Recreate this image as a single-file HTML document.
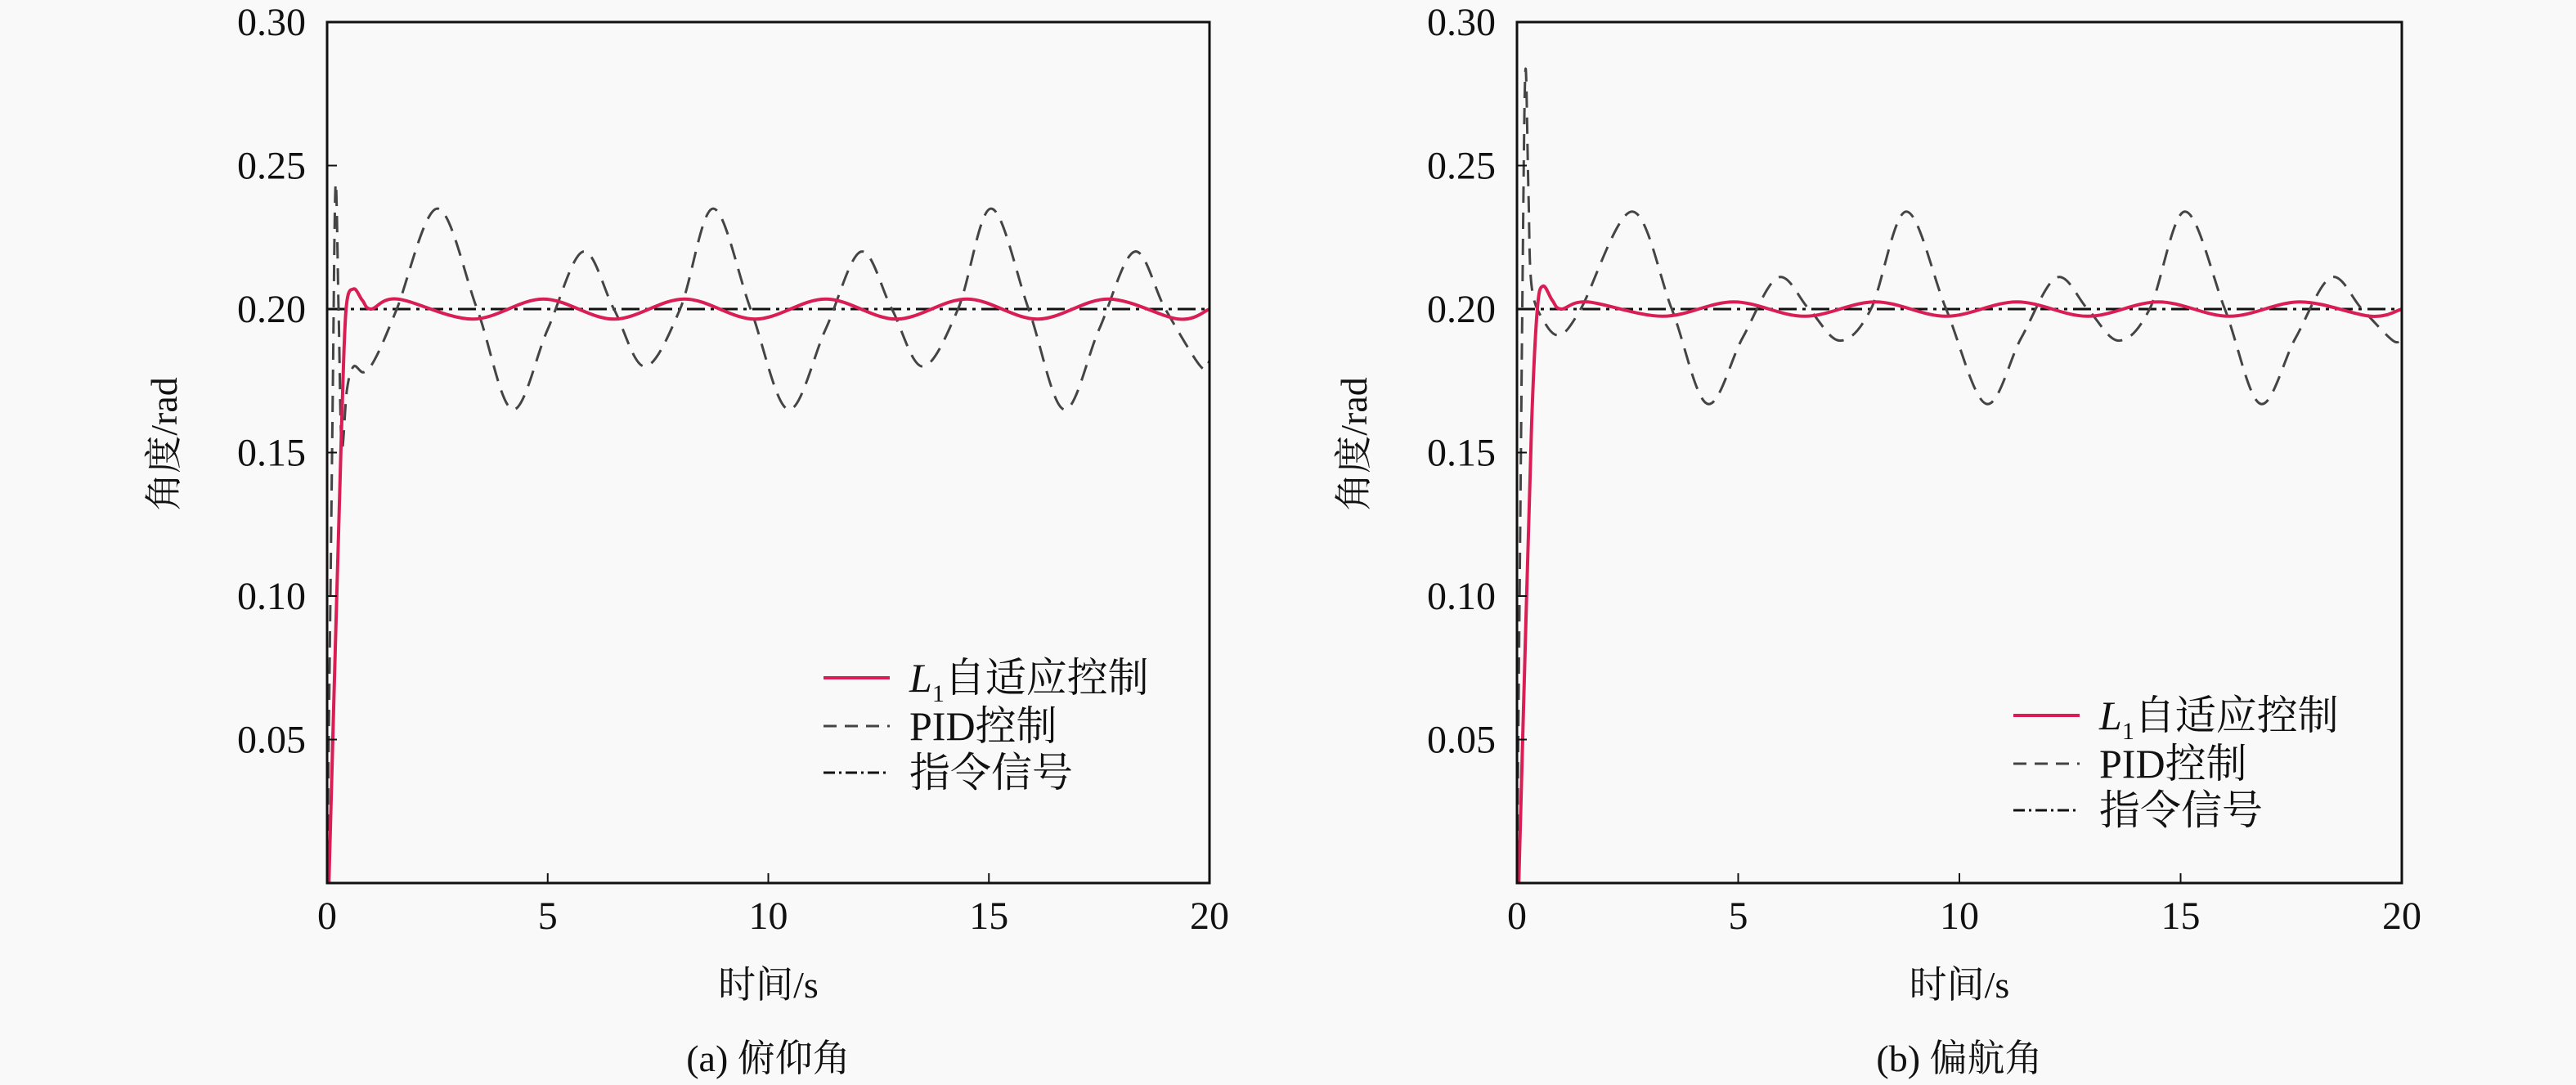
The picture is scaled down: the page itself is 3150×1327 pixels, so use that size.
<!DOCTYPE html>
<html><head><meta charset="utf-8"><style>
html,body{margin:0;padding:0;background:#f9f9f9;}
svg{display:block;font-family:"Liberation Serif","Noto Serif CJK SC",serif;}
</style></head><body>
<svg id="fig" width="3150" height="1327" viewBox="0 0 3150 1327" xmlns="http://www.w3.org/2000/svg">
<rect width="3150" height="1327" fill="#f9f9f9"/>
</svg>
<script>
const xTicks=[0,5,10,15,20];
const yTicks=[0.05,0.10,0.15,0.20,0.25,0.30];
const yTickLabels=["0.05","0.10","0.15","0.20","0.25","0.30"];
const cmdValue=0.2;
// pitch
const pitchPidT=[0,0.12,0.19,0.26,0.33,0.45,0.6,0.83,1.1,1.58,2.5,3.4,4.2,5.0,5.8,6.5,7.2,8.0,8.75,9.6,10.45,11.3,12.1,12.8,13.5,14.3,15.05,15.9,16.7,17.5,18.3,19.0,19.8,20];
const pitchPidV=[0,0.16,0.243,0.2,0.152,0.172,0.180,0.178,0.183,0.2,0.235,0.2,0.165,0.193,0.22,0.2,0.18,0.2,0.235,0.2,0.165,0.193,0.22,0.2,0.18,0.2,0.235,0.2,0.165,0.193,0.22,0.2,0.18,0.182];
const pitchL1T=[0.04,0.2,0.33,0.43,0.6,0.8,1.0,1.6,3.3,4.9,6.5,8.1,9.7,11.3,12.9,14.5,16.1,17.7,19.3,20];
const pitchL1V=[0,0.09,0.16,0.2,0.207,0.203,0.2,0.2035,0.1965,0.2035,0.1965,0.2035,0.1965,0.2035,0.1965,0.2035,0.1965,0.2035,0.1965,0.2];
// yaw
const yawPidT=[0,0.12,0.19,0.26,0.33,0.6,0.96,1.44,2.6,3.5,4.3,5.1,5.9,6.6,7.3,8.0,8.8,9.7,10.6,11.4,12.2,12.9,13.6,14.3,15.1,16.0,16.8,17.6,18.4,19.1,19.8,20];
const yawPidV=[0,0.2,0.283,0.24,0.208,0.196,0.191,0.2,0.234,0.2,0.167,0.19,0.211,0.2,0.189,0.2,0.234,0.2,0.167,0.19,0.211,0.2,0.189,0.2,0.234,0.2,0.167,0.19,0.211,0.2,0.189,0.19];
const yawL1T=[0.04,0.2,0.33,0.46,0.59,0.8,1.0,1.6,3.3,4.9,6.5,8.1,9.7,11.3,12.9,14.5,16.1,17.7,19.3,20];
const yawL1V=[0,0.09,0.16,0.2,0.208,0.203,0.2,0.2025,0.1975,0.2025,0.1975,0.2025,0.1975,0.2025,0.1975,0.2025,0.1975,0.2025,0.1975,0.2];

const NS="http://www.w3.org/2000/svg";
const svg=document.getElementById('fig');
function mk(tag,attrs,parent){const e=document.createElementNS(NS,tag);for(const k in attrs)e.setAttribute(k,attrs[k]);(parent||svg).appendChild(e);return e;}
function smooth(pts){let d='M'+pts[0][0].toFixed(1)+','+pts[0][1].toFixed(1);
 for(let i=0;i<pts.length-1;i++){const p0=pts[i-1]||pts[i],p1=pts[i],p2=pts[i+1],p3=pts[i+2]||p2;
 const c1=[p1[0]+(p2[0]-p0[0])/6,p1[1]+(p2[1]-p0[1])/6],c2=[p2[0]-(p3[0]-p1[0])/6,p2[1]-(p3[1]-p1[1])/6];
 d+='C'+c1[0].toFixed(1)+','+c1[1].toFixed(1)+' '+c2[0].toFixed(1)+','+c2[1].toFixed(1)+' '+p2[0].toFixed(1)+','+p2[1].toFixed(1);}
 return d;}
function panel(cfg){
 const g=mk('g',{});
 
 
 const X=t=>cfg.x0+t/20*(cfg.x1-cfg.x0);
 const Y=v=>cfg.y1-v/0.3*(cfg.y1-cfg.y0);
 const clip=mk('clipPath',{id:cfg.name+'-clip'},g);
 mk('rect',{x:cfg.x0,y:cfg.y0,width:cfg.x1-cfg.x0,height:cfg.y1-cfg.y0},clip);
 const cg=mk('g',{'clip-path':'url(#'+cfg.name+'-clip)'},g);
 const cmd=mk('line',{x1:X(0),x2:X(20),y1:Y(cmdValue),y2:Y(cmdValue),stroke:'#111','stroke-width':3,'stroke-dasharray':'22 7 4 7'},cg);
 
 
 const pid=mk('path',{d:smooth(cfg.pidT.map((t,i)=>[X(t),Y(cfg.pidV[i])])),fill:'none',stroke:'#444','stroke-width':3,'stroke-dasharray':'20 12'},cg);
 
 
 const l1=mk('path',{d:smooth(cfg.l1T.map((t,i)=>[X(t),Y(cfg.l1V[i])])),fill:'none',stroke:'#d81e55','stroke-width':4},cg);
 
 
 const ax=mk('rect',{x:cfg.x0,y:cfg.y0,width:cfg.x1-cfg.x0,height:cfg.y1-cfg.y0,fill:'none',stroke:'#111','stroke-width':3},g);
 
 
 xTicks.forEach(t=>{
  if(t>0&&t<20){const tk=mk('line',{x1:X(t),x2:X(t),y1:cfg.y1,y2:cfg.y1-12,stroke:'#111','stroke-width':2},g);
  
  }
  const tl=mk('text',{x:X(t),y:cfg.y1+56,'font-size':48,'text-anchor':'middle',fill:'#111'},g);tl.textContent=String(t);
  
  
 });
 yTicks.forEach((v,i)=>{
  if(v<0.3){const tk=mk('line',{x1:cfg.x0,x2:cfg.x0+12,y1:Y(v),y2:Y(v),stroke:'#111','stroke-width':2},g);
  
  }
  const tl=mk('text',{x:cfg.x0-26,y:Y(v)+16,'font-size':48,'text-anchor':'end',fill:'#111'},g);tl.textContent=yTickLabels[i];
  
  
 });
 const cx=(cfg.x0+cfg.x1)/2;
 const xt=mk('text',{x:cx,y:1220,'font-size':46,'text-anchor':'middle',fill:'#111'},g);xt.textContent='时间/s';
 
 
 const yt=mk('text',{x:0,y:0,'font-size':46,'text-anchor':'middle',fill:'#111',transform:'translate('+(cfg.x0-184)+',543) rotate(-90)'},g);yt.textContent='角度/rad';
 
 
 const cap=mk('text',{x:cx,y:1310,'font-size':46,'text-anchor':'middle',fill:'#111'},g);cap.textContent=cfg.caption;
 
 
 // legend
 const lg=mk('g',{},g);
 
 
 const lx=cfg.x0+607, ly=cfg.legY;
 const s1=mk('line',{x1:lx,x2:lx+81,y1:ly,y2:ly,stroke:'#d81e55','stroke-width':4},lg);
 
 
 const s2=mk('line',{x1:lx,x2:lx+81,y1:ly+59,y2:ly+59,stroke:'#444','stroke-width':3,'stroke-dasharray':'16 10'},lg);
 
 
 const s3=mk('line',{x1:lx,x2:lx+81,y1:ly+116,y2:ly+116,stroke:'#111','stroke-width':3,'stroke-dasharray':'14 5 3 5'},lg);
 
 
 const t1=mk('text',{x:lx+105,y:ly+17,'font-size':50,fill:'#111'},lg);
 t1.innerHTML='<tspan font-style="italic">L</tspan><tspan font-size="30" dy="12">1</tspan><tspan dy="-12">自适应控制</tspan>';
 
 
 const t2=mk('text',{x:lx+105,y:ly+76,'font-size':50,fill:'#111'},lg);t2.textContent='PID控制';
 
 
 const t3=mk('text',{x:lx+105,y:ly+133,'font-size':50,fill:'#111'},lg);t3.textContent='指令信号';
 
 
}
panel({name:'pitch-panel',x0:400,x1:1479,y0:27,y1:1080,pidT:pitchPidT,pidV:pitchPidV,l1T:pitchL1T,l1V:pitchL1V,caption:'(a) 俯仰角',legY:829});
panel({name:'yaw-panel',x0:1855,x1:2937,y0:27,y1:1080,pidT:yawPidT,pidV:yawPidV,l1T:yawL1T,l1V:yawL1V,caption:'(b) 偏航角',legY:875});
</script>
</body></html>
